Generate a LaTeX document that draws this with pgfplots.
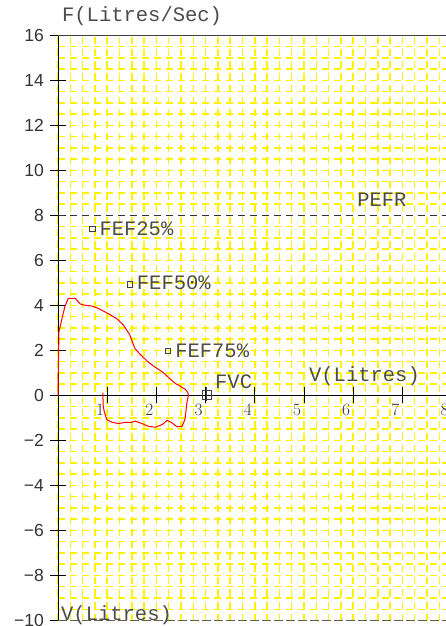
\documentclass[border=0pt]{standalone}
\usepackage{pgfplots}
\pgfplotsset{compat=1.18}
\usepackage{fontspec}
\setmainfont{Liberation Sans}
\newfontfamily\mono{Liberation Mono}
\begin{document}
\begin{tikzpicture}
\begin{axis}[
  x=49.2pt, y=22.5pt,
  xmin=0, xmax=8, ymin=-10, ymax=16,
  axis x line=middle, axis y line=left,
  axis line style={black, line width=0.9pt, -},
  xtick={1,...,8}, ytick={-10,-8,...,16},
  yticklabels={−10,−8,−6,−4,−2,0,2,4,6,8,10,12,14,16},
  tick align=center, major tick length=16pt,
  tick style={black, line width=0.9pt},
  minor xtick={0,0.25,...,8}, minor ytick={-10,-9.5,...,16},
  minor tick length=0pt,
  grid=minor,
  minor grid style={yellow, line width=1.5pt, dash pattern=on 7pt off 5pt},
  ticklabel style={font=\fontsize{17.5}{17.5}\selectfont, text=black!80},
  xticklabel style={anchor=north, inner sep=0pt, xshift=-7pt, yshift=-1pt},
  yticklabel style={anchor=east, inner sep=0pt, xshift=-6pt},
  clip=false,
]
\coordinate (O) at (axis cs:0,-10);
\draw[black!75, line width=1.2pt] (axis cs:0,16) -- (axis cs:8,16);
\draw[black!70!yellow, dash pattern=on 9pt off 3pt, line width=1.2pt] (axis cs:0,-10) -- (axis cs:8,-10);
\addplot[black!80, dash pattern=on 7pt off 5pt, line width=0.9pt] coordinates {(0,8) (8,8)};
\addplot[red, line width=1pt, mark=none] coordinates {
(0,0) (0.005,1.0) (0.02,2.84) (0.075,3.36) (0.14,3.95) (0.20,4.28) (0.21,4.32) (0.35,4.32)
(0.45,4.07) (0.52,4.02) (0.68,3.98) (0.82,3.87) (1.02,3.64) (1.19,3.42) (1.33,3.13)
(1.46,2.69) (1.56,2.1) (1.67,1.83) (1.82,1.51) (1.98,1.25) (2.14,1.02) (2.29,0.71)
(2.39,0.53) (2.49,0.41) (2.59,0.27) (2.64,0.13) (2.65,0) (2.62,-0.31) (2.60,-0.71)
(2.58,-1.07) (2.52,-1.37) (2.42,-1.39) (2.32,-1.22) (2.22,-1.10) (2.12,-1.29)
(1.98,-1.41) (1.84,-1.37) (1.71,-1.25) (1.57,-1.14) (1.50,-1.19) (1.37,-1.19)
(1.23,-1.25) (1.10,-1.19) (0.99,-1.07) (0.94,-0.71) (0.92,-0.48) (0.91,0.13)};
\addplot[only marks, mark=square, mark size=2.7pt, black!75, line width=0.6pt] coordinates {(0.70,7.4) (1.46,4.94) (2.23,1.98)};
\addplot[only marks, mark=square, mark size=4.5pt, black!75, line width=0.6pt] coordinates {(3.02,0.05)};
\addplot[only marks, mark=|, mark size=7pt, black!75, line width=0.6pt] coordinates {(3.02,0.05)};
\tikzset{lab/.style={anchor=base west, inner sep=0pt, text=black!70, font=\mono\fontsize{20.5}{20.5}\selectfont}}
\node[lab] at (axis cs:0.08,16.61) {F(Litres/Sec)};
\node[lab] at (axis cs:6.08,8.38) {PEFR};
\node[lab] at (axis cs:0.84,7.13) {FEF25\%};
\node[lab] at (axis cs:1.60,4.69) {FEF50\%};
\node[lab] at (axis cs:2.38,1.71) {FEF75\%};
\node[lab] at (axis cs:3.19,0.33) {FVC};
\node[lab] at (axis cs:5.10,0.6) {V(Litres)};
\node[lab] at (axis cs:0.06,-9.98) {V(Litres)};
\end{axis}
\pgfresetboundingbox
\useasboundingbox ([xshift=-58pt,yshift=-5.5pt]O) rectangle ([xshift=388pt,yshift=620.5pt]O);
\end{tikzpicture}
\end{document}
